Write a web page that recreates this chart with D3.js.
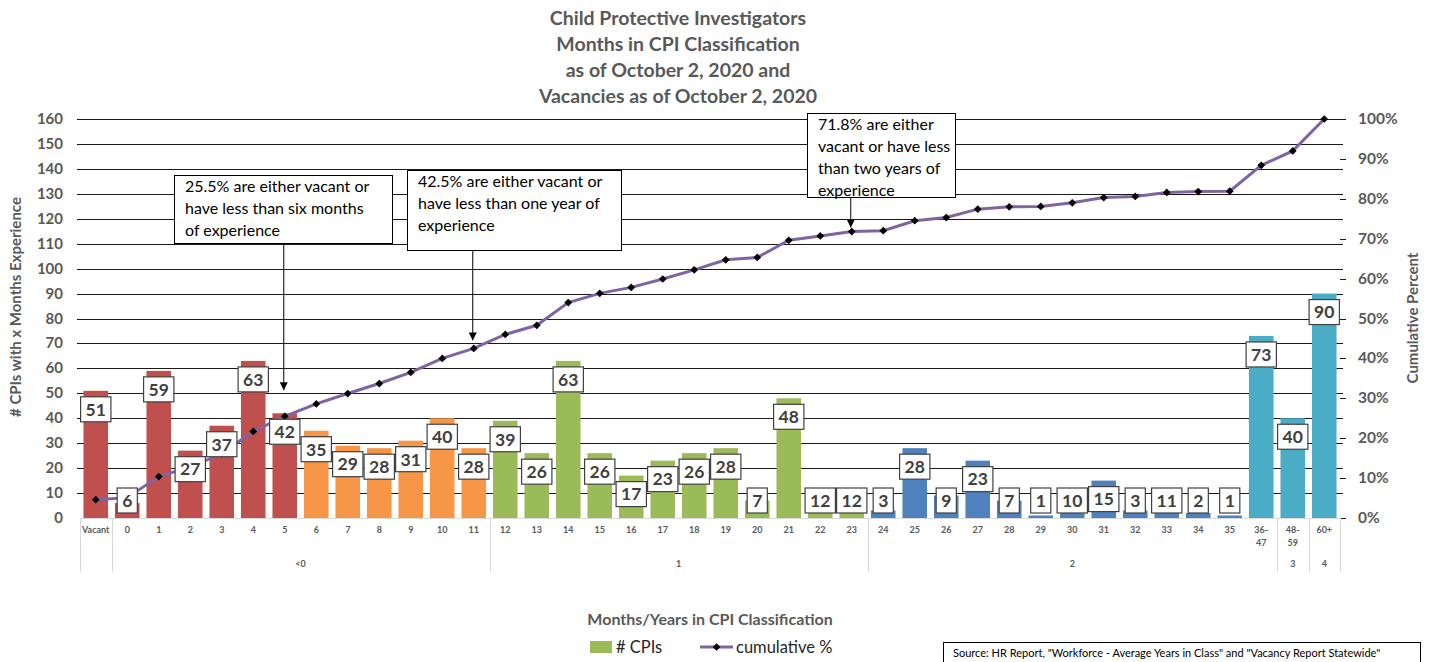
<!DOCTYPE html>
<html lang="en">
<head>
<meta charset="UTF-8">
<title>Child Protective Investigators - Months in CPI Classification</title>
<script src="https://cdn.jsdelivr.net/npm/d3@7"></script>
<style>
    body { margin: 0; background: #fff; }
    svg { display: block; font-family: Lato, "Open Sans", sans-serif; }
    .axis-text { fill: #595959; font-weight: bold; }
    .note-text { fill: #000; font-size: 16px; }
</style>
</head>
<body>
<svg id="chart" width="1432" height="662"></svg>
<script>
// Chart data
const categories = ["Vacant", "0", "1", "2", "3", "4", "5", "6", "7", "8", "9", "10", "11",
    "12", "13", "14", "15", "16", "17", "18", "19", "20", "21", "22", "23",
    "24", "25", "26", "27", "28", "29", "30", "31", "32", "33", "34", "35",
    "36-47", "48-59", "60+"];
const cpis = [51, 6, 59, 27, 37, 63, 42, 35, 29, 28, 31, 40, 28,
    39, 26, 63, 26, 17, 23, 26, 28, 7, 48, 12, 12,
    3, 28, 9, 23, 7, 1, 10, 15, 3, 11, 2, 1,
    73, 40, 90];
const cumulativePct = [4.6, 5.1, 10.4, 12.8, 16.1, 21.7, 25.5, 28.6, 31.2, 33.7, 36.5, 40.0, 42.5,
    46.0, 48.3, 54.0, 56.3, 57.8, 59.9, 62.2, 64.7, 65.3, 69.6, 70.7, 71.8,
    72.0, 74.5, 75.3, 77.4, 78.0, 78.1, 79.0, 80.3, 80.6, 81.6, 81.8, 81.9,
    88.4, 92.0, 100];
const yTicks = [0, 10, 20, 30, 40, 50, 60, 70, 80, 90, 100, 110, 120, 130, 140, 150, 160];
const pctTicks = [0, 10, 20, 30, 40, 50, 60, 70, 80, 90, 100];

// year groups on the second axis row: label, first and last category
const yearGroups = [["<0", "0", "11"], ["1", "12", "23"], ["2", "24", "36-47"], ["3", "48-59", "48-59"], ["4", "60+", "60+"]];
// colour bands of the bars: first and last category
const colourBands = [["Vacant", "5"], ["6", "11"], ["12", "23"], ["24", "35"], ["36-47", "60+"]];

const notes = [
    { at: "5", lines: ["25.5% are either vacant or", "have less than six months", "of experience"] },
    { at: "11", lines: ["42.5% are either vacant or", "have less than one year of", "experience"] },
    { at: "23", lines: ["71.8% are either", "vacant or have less", "than two years of", "experience"] }
];

const titleLines = ["Child Protective Investigators", "Months in CPI Classification",
    "as of October 2, 2020 and", "Vacancies as of October 2, 2020"];

// ---- layout
const bandColours = ["#C0504D", "#F79646", "#9BBB59", "#4F81BD", "#4BACC6"];
const noteLayout = [
    { x: 174, y: 175, w: 218, h: 68, tipGap: 26 },
    { x: 407, y: 170, w: 214, h: 80, tipGap: 8 },
    { x: 807, y: 113, w: 148, h: 84, tipGap: 4 }
];

const svg = d3.select("#chart");

const x = d3.scaleBand()
    .domain(categories)
    .range([80, 1340])
    .paddingInner(0.22)
    .paddingOuter(0.11);
const y = d3.scaleLinear().domain([0, 160]).range([518, 119]);
const y2 = d3.scaleLinear().domain([0, 100]).range([518, 119]);
const bw = x.bandwidth();
const cx = c => x(c) + bw / 2;
const idx = c => categories.indexOf(c);
const bandOf = c => colourBands.findIndex(b => idx(c) >= idx(b[0]) && idx(c) <= idx(b[1]));
const leftEdge = c => c === categories[0] ? x.range()[0] : x(c) - x.step() * x.paddingInner() / 2;

// Title
svg.append("g").selectAll("text")
    .data(titleLines)
    .join("text")
    .attr("class", "axis-text")
    .attr("x", 678)
    .attr("y", (d, i) => 25 + i * 26)
    .attr("text-anchor", "middle")
    .style("font-size", "19.5px")
    .text(d => d);

// Gridlines
svg.append("g")
    .selectAll("line")
    .data(yTicks.filter(t => t > 0))
    .join("line")
    .attr("x1", 77).attr("x2", 1343)
    .attr("y1", d => Math.round(y(d)) + 0.5)
    .attr("y2", d => Math.round(y(d)) + 0.5)
    .attr("stroke", "#1a1a1a")
    .attr("stroke-width", 1);

// right axis tick marks
svg.append("g")
    .selectAll("line")
    .data(pctTicks)
    .join("line")
    .attr("x1", 1340).attr("x2", 1346)
    .attr("y1", d => Math.round(y2(d)) + 0.5)
    .attr("y2", d => Math.round(y2(d)) + 0.5)
    .attr("stroke", "#1a1a1a");

// Left axis labels
svg.append("g")
    .selectAll("text")
    .data(yTicks)
    .join("text")
    .attr("class", "axis-text")
    .attr("x", 63)
    .attr("y", d => y(d) + 5)
    .attr("text-anchor", "end")
    .style("font-size", "15px")
    .text(d => d);

// Right axis labels
svg.append("g")
    .selectAll("text")
    .data(pctTicks)
    .join("text")
    .attr("class", "axis-text")
    .attr("x", 1358)
    .attr("y", d => y2(d) + 5)
    .style("font-size", "15.5px")
    .text(d => d + "%");

svg.append("text")
    .attr("class", "axis-text")
    .attr("transform", "translate(21,307) rotate(-90)")
    .attr("text-anchor", "middle")
    .style("font-size", "15px")
    .text("# CPIs with x Months Experience");

svg.append("text")
    .attr("class", "axis-text")
    .attr("transform", "translate(1418,318) rotate(-90)")
    .attr("text-anchor", "middle")
    .style("font-size", "15px")
    .text("Cumulative Percent");

// Bars
svg.append("g")
    .selectAll("rect")
    .data(categories)
    .join("rect")
    .attr("x", c => x(c))
    .attr("y", (c, i) => y(cpis[i]))
    .attr("width", bw)
    .attr("height", (c, i) => y(0) - y(cpis[i]))
    .attr("fill", c => bandColours[bandOf(c)]);

// Category axis (two rows, table style)
const xAxis = svg.append("g")
    .attr("transform", `translate(0,${y(0)})`)
    .call(d3.axisBottom(x).tickSize(0).tickPadding(9));
xAxis.select(".domain").remove();
xAxis.selectAll("text")
    .attr("class", "axis-text")
    .style("font-size", "9px")
    .style("font-family", "Lato, sans-serif")
    .each(function (d) {
        if (d.includes("-")) {
            const parts = d.split("-");
            const t = d3.select(this).text(null);
            t.append("tspan").attr("x", 0).text(parts[0] + "-");
            t.append("tspan").attr("x", 0).attr("dy", "1.4em").text(parts[1]);
        }
    });

svg.append("line")
    .attr("x1", 80).attr("x2", 1340)
    .attr("y1", 518.5).attr("y2", 518.5)
    .attr("stroke", "#d9d9d9");

const separators = [categories[0], categories[1]].concat(yearGroups.slice(1).map(g => g[1]));
svg.append("g")
    .selectAll("line")
    .data(separators.map(leftEdge).concat([x.range()[1]]))
    .join("line")
    .attr("x1", d => Math.round(d) + 0.5).attr("x2", d => Math.round(d) + 0.5)
    .attr("y1", 518).attr("y2", 572)
    .attr("stroke", "#d9d9d9");

svg.append("g")
    .selectAll("text")
    .data(yearGroups)
    .join("text")
    .attr("class", "axis-text")
    .attr("x", g => (x(g[1]) + x(g[2]) + bw) / 2)
    .attr("y", 567)
    .attr("text-anchor", "middle")
    .style("font-size", "9px")
    .text(g => g[0]);

// Cumulative line
const line = d3.line()
    .x(d => cx(d.c))
    .y(d => y2(d.p));
const pts = categories.map((c, i) => ({ c: c, p: cumulativePct[i] }));

svg.append("path")
    .datum(pts)
    .attr("d", line)
    .attr("fill", "none")
    .attr("stroke", "#8064A2")
    .attr("stroke-width", 3);

svg.append("g")
    .selectAll("path")
    .data(pts)
    .join("path")
    .attr("d", d3.symbol(d3.symbolSquare, 30))
    .attr("transform", d => `translate(${cx(d.c)},${y2(d.p)}) rotate(45)`)
    .attr("fill", "#000");

// Data labels
const labels = svg.append("g")
    .selectAll("g")
    .data(categories)
    .join("g")
    .attr("transform", (c, i) => `translate(${cx(c)},${Math.min(y(cpis[i]) + 18.5, 500.5)})`);
labels.append("rect");
labels.append("text")
    .attr("text-anchor", "middle")
    .attr("dy", "0.36em")
    .attr("fill", "#404040")
    .style("font-size", "17.5px")
    .style("font-weight", "bold")
    .text((c, i) => cpis[i]);
labels.each(function () {
    const g = d3.select(this);
    const w = g.select("text").node().getBBox().width;
    g.select("rect")
        .attr("x", -w / 2 - 5).attr("y", -12.5)
        .attr("width", w + 10).attr("height", 25)
        .attr("fill", "#fff")
        .attr("stroke", "#404040")
        .attr("stroke-width", 1.2);
});

// Callout notes with arrows
svg.append("defs").append("marker")
    .attr("id", "arrow")
    .attr("viewBox", "0 0 10 10")
    .attr("refX", 10).attr("refY", 5)
    .attr("markerWidth", 8).attr("markerHeight", 8)
    .attr("markerUnits", "userSpaceOnUse")
    .attr("orient", "auto")
    .append("path")
    .attr("d", "M0,0 L10,5 L0,10 z")
    .attr("fill", "#000");

notes.forEach((n, k) => {
    const L = noteLayout[k];
    const px = cx(n.at);
    const py = y2(cumulativePct[idx(n.at)]);
    svg.append("line")
        .attr("x1", px - 1).attr("x2", px - 1)
        .attr("y1", L.y + L.h).attr("y2", py - L.tipGap)
        .attr("stroke", "#000")
        .attr("marker-end", "url(#arrow)");
    svg.append("rect")
        .attr("x", L.x + 0.5).attr("y", L.y + 0.5)
        .attr("width", L.w).attr("height", L.h)
        .attr("fill", "#fff")
        .attr("stroke", "#000");
    svg.append("g").selectAll("text")
        .data(n.lines)
        .join("text")
        .attr("class", "note-text")
        .attr("x", L.x + 11)
        .attr("y", (d, i) => L.y + 17 + i * 22)
        .text(d => d);
});

// X axis title + legend
svg.append("text")
    .attr("class", "axis-text")
    .attr("x", 710).attr("y", 625)
    .attr("text-anchor", "middle")
    .style("font-size", "16px")
    .text("Months/Years in CPI Classification");

svg.append("rect")
    .attr("x", 590).attr("y", 641)
    .attr("width", 22).attr("height", 12)
    .attr("fill", bandColours[2]);
svg.append("text")
    .attr("x", 616).attr("y", 653)
    .attr("fill", "#262626")
    .style("font-size", "16.5px")
    .text("# CPIs");
svg.append("line")
    .attr("x1", 700).attr("x2", 733)
    .attr("y1", 647).attr("y2", 647)
    .attr("stroke", "#8064A2").attr("stroke-width", 3);
svg.append("path")
    .attr("d", d3.symbol(d3.symbolSquare, 30))
    .attr("transform", "translate(716.5,647) rotate(45)");
svg.append("text")
    .attr("x", 736).attr("y", 653)
    .attr("fill", "#262626")
    .style("font-size", "16.5px")
    .text("cumulative %");

// Source box
svg.append("rect")
    .attr("x", 943.5).attr("y", 642.5)
    .attr("width", 477).attr("height", 30)
    .attr("fill", "#fff")
    .attr("stroke", "#000");
svg.append("text")
    .attr("x", 953).attr("y", 657)
    .style("font-size", "11px")
    .text('Source: HR Report, "Workforce - Average Years in Class" and "Vacancy Report Statewide"');
</script>
</body>
</html>
